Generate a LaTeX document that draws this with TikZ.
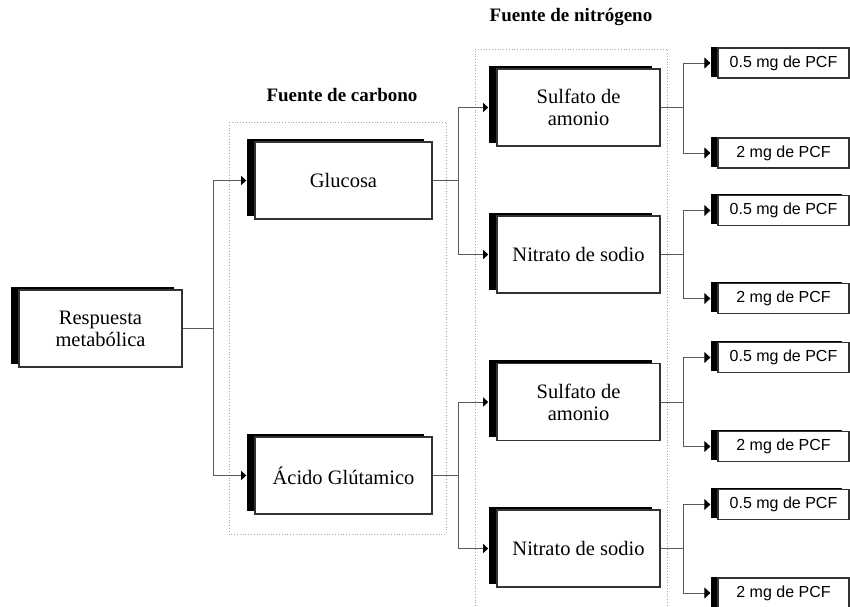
\documentclass[tikz,border=0pt]{standalone}
\usepackage{fontspec}
\setmainfont{Liberation Serif}
\newfontfamily\pcffont{Liberation Sans}
\usetikzlibrary{arrows.meta,shadows}

\tikzset{
  bigbox/.style={draw=black!80, line width=1.6pt, fill=white, inner sep=0pt,
    minimum height=77pt, align=center, font=\fontsize{20.5}{22}\selectfont,
    drop shadow={shadow xshift=-8pt, shadow yshift=3.5pt, fill=black, opacity=1}},
  pcfbox/.style={draw=black!80, line width=1.3pt, fill=white, inner sep=0pt,
    minimum width=131pt, minimum height=30pt, font=\pcffont\fontsize{16}{18}\selectfont,
    drop shadow={shadow xshift=-7pt, shadow yshift=1.5pt, fill=black, opacity=1}},
  link/.style={draw=black!65, line width=0.8pt,
    -{Triangle[length=5pt,width=9pt,color=black]}},
  pcflink/.style={link, -{Triangle[length=6pt,width=11pt,color=black]}},
  groupbox/.style={draw=black!35, dotted, line width=0.8pt},
  grouptitle/.style={font=\bfseries\fontsize{19}{21}\selectfont}
}

\begin{document}
\begin{tikzpicture}[x=1pt,y=-1pt]
\useasboundingbox (0,0) rectangle (850,606);
% dotted groups and their titles
\draw[groupbox] (229,122) rectangle (446,534);
\draw[groupbox] (475,606) |- (667,49) -- (667,606);
\node[grouptitle] (tcarb) at (342,95) {Fuente de carbono};
\node[grouptitle] (tnitr) at (571,17) {Fuente de nitrógeno};
% boxes
\node[bigbox, minimum width=163pt] (resp) at (100.5,328.5) {Respuesta\\metabólica};
\node[bigbox, minimum width=177pt] (gluc) at (343.5,180.5) {Glucosa};
\node[bigbox, minimum width=177pt] (acid) at (343.5,475.5) {Ácido Glútamico};
\node[bigbox, minimum width=163pt] (sa) at (578.5,107.5) {Sulfato de\\amonio};
\node[bigbox, minimum width=163pt] (na) at (578.5,254.5) {Nitrato de sodio};
\node[bigbox, minimum width=163pt] (sb) at (578.5,402) {Sulfato de\\amonio};
\node[bigbox, minimum width=163pt] (nb) at (578.5,548.5) {Nitrato de sodio};
% connectors
\draw[link, shorten >=8pt] (resp.east) -- ++(31,0) |- (gluc.west);
\draw[link, shorten >=8pt] (resp.east) -- ++(31,0) |- (acid.west);
\draw[link, shorten >=8pt] (gluc.east) -- ++(26,0) |- (sa.west);
\draw[link, shorten >=8pt] (gluc.east) -- ++(26,0) |- (na.west);
\draw[link, shorten >=8pt] (acid.east) -- ++(26,0) |- (sb.west);
\draw[link, shorten >=8pt] (acid.east) -- ++(26,0) |- (nb.west);
% PCF doses
\foreach \p/\ya/\yb in {sa/63/153, na/210.5/298.5, sb/357.5/446.5, nb/504.5/593}{
  \node[pcfbox] (\p-lo) at (783.5,\ya) {0.5 mg de PCF};
  \node[pcfbox] (\p-hi) at (783.5,\yb) {2 mg de PCF};
  \draw[pcflink, shorten >=7pt] (\p.east) -- ++(23,0) |- (\p-lo.west);
  \draw[pcflink, shorten >=7pt] (\p.east) -- ++(23,0) |- (\p-hi.west);
}
\end{tikzpicture}
\end{document}
